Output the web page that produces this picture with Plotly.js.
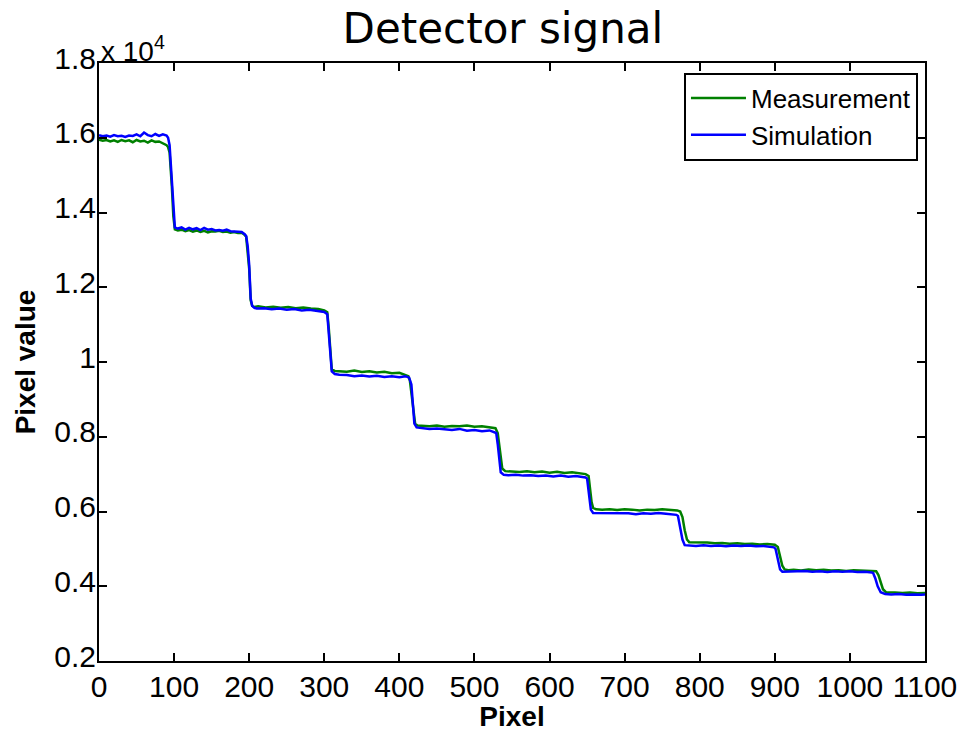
<!DOCTYPE html>
<html>
<head>
<meta charset="utf-8">
<script src="https://cdn.plot.ly/plotly-3.0.1.min.js"></script>
<style>html,body{margin:0;padding:0;background:#fff;}#chart{width:976px;height:732px;}</style>
</head>
<body>
<div id="chart"></div>
<script>
// Measurement (green): pixel index and pixel value
var measX = [0,5,10,15,20,25,30,35,40,45,50,55,60,65,70,75,80,85,90,92,94,97,99,101,105,110,115,120,125,130,135,140,145,150,155,160,165,170,175,180,185,190,193,196,198,200,202,204,207,212,222,232,242,252,262,272,282,292,300,304,306,308,310,314,320,330,340,350,360,370,380,390,400,408,412,414,417,419,421,424,430,440,450,460,470,480,490,500,510,520,528,531,533,535,537,541,550,560,570,580,590,600,610,620,630,640,648,652,654,656,658,662,670,680,690,700,710,720,730,740,750,760,770,774,777,780,783,786,790,800,810,820,830,840,850,860,870,880,890,900,904,907,910,913,918,925,935,945,955,965,975,985,995,1005,1015,1025,1035,1038,1041,1044,1048,1053,1060,1070,1080,1090,1100];
var measY = [15950,15920,15940,15900,15930,15890,15940,15910,15930,15880,15940,15900,15920,15870,15930,15890,15900,15860,15800,15750,15600,14700,13900,13550,13520,13540,13500,13530,13490,13520,13480,13510,13470,13500,13490,13510,13480,13490,13460,13480,13450,13460,13420,13350,13000,12500,11650,11500,11470,11490,11460,11480,11450,11470,11440,11460,11430,11420,11380,11330,10900,10200,9800,9760,9760,9740,9770,9730,9750,9720,9740,9700,9710,9660,9620,9500,9000,8600,8350,8300,8290,8280,8300,8270,8290,8280,8300,8270,8280,8260,8230,8100,7800,7450,7150,7080,7070,7060,7080,7050,7070,7040,7060,7030,7050,7020,7000,6950,6600,6250,6100,6060,6050,6060,6040,6060,6050,6030,6050,6040,6060,6040,6030,6000,5850,5500,5250,5180,5180,5160,5170,5150,5160,5140,5150,5130,5140,5120,5130,5110,5050,4800,4550,4450,4430,4440,4420,4450,4430,4440,4420,4430,4410,4430,4420,4410,4400,4300,4100,3920,3840,3830,3830,3820,3830,3810,3820];

// Simulation (blue)
var simX = [0,5,10,15,20,25,30,35,40,45,50,55,60,65,70,75,80,85,90,92,94,97,99,101,105,110,115,120,125,130,135,140,145,150,155,160,165,170,175,180,185,190,194,196,198,200,202,204,207,210,220,230,240,250,260,270,280,290,300,304,306,308,310,314,320,330,340,350,360,370,380,390,400,408,413,416,418,420,423,430,440,450,460,470,480,490,500,510,520,527,529,531,533,535,539,545,555,565,575,585,595,605,615,625,635,645,648,650,652,655,658,665,675,685,695,705,715,725,735,745,755,765,769,771,774,777,780,785,795,805,815,825,835,845,855,865,875,885,895,899,901,904,907,910,920,930,940,950,960,970,980,990,1000,1010,1020,1029,1031,1034,1037,1041,1047,1055,1065,1075,1085,1095,1100];
var simY = [16070,16040,16060,16030,16070,16040,16050,16020,16060,16050,16090,16040,16140,16070,16040,16100,16050,16090,16060,16000,15800,14800,14000,13600,13570,13600,13540,13590,13550,13580,13530,13590,13540,13560,13520,13530,13510,13540,13500,13490,13470,13480,13420,13370,13100,12600,11700,11500,11450,11430,11440,11410,11430,11400,11420,11380,11400,11360,11340,11280,10800,10100,9750,9680,9660,9650,9620,9640,9610,9630,9600,9620,9590,9620,9580,9400,8700,8350,8250,8230,8210,8220,8200,8180,8210,8160,8180,8150,8170,8120,8100,7800,7400,7050,6980,6970,6980,6960,6970,6950,6960,6940,6960,6930,6950,6930,6910,6880,6500,6050,5960,5960,5950,5960,5940,5950,5930,5950,5940,5960,5940,5930,5910,5880,5600,5250,5100,5090,5080,5100,5080,5090,5070,5090,5080,5090,5070,5080,5060,5040,5000,4700,4450,4390,4400,4390,4410,4390,4400,4380,4400,4390,4400,4380,4390,4370,4350,4200,4000,3840,3790,3780,3790,3770,3780,3770,3780];

var seriesNames = ["Measurement", "Simulation"];
var yTickVals = [2000,4000,6000,8000,10000,12000,14000,16000,18000];
var yTickText = ["0.2","0.4","0.6","0.8","1","1.2","1.4","1.6","1.8"];
var xTickVals = [0,100,200,300,400,500,600,700,800,900,1000,1100];

var traces = [
  {x: measX, y: measY, type: "scatter", mode: "lines", name: seriesNames[0],
   line: {color: "#008000", width: 2.5}},
  {x: simX, y: simY, type: "scatter", mode: "lines", name: seriesNames[1],
   line: {color: "#0000FF", width: 2.5}}
];

var axisFont = {family: "Liberation Sans, Arial, sans-serif", size: 30, color: "#000"};

var layout = {
  width: 976, height: 732,
  margin: {l: 99, r: 51, t: 63, b: 71, pad: 0},
  paper_bgcolor: "#fff", plot_bgcolor: "#fff",
  showlegend: true,
  title: {text: "Detector signal", font: {family: "DejaVu Sans, sans-serif", size: 42, color: "#000"},
          x: 0.489, xref: "paper", xanchor: "center", y: 0.962, yref: "container", yanchor: "middle"},
  xaxis: {
    range: [0, 1100], tickmode: "array", tickvals: xTickVals,
    showgrid: false, zeroline: false, showline: true, linecolor: "#000", linewidth: 2,
    mirror: "ticks", ticks: "inside", ticklen: 8, tickwidth: 2, tickcolor: "#000",
    tickfont: axisFont, ticklabelstandoff: -2,
    title: {text: "<b>Pixel</b>", font: {family: "Liberation Sans, Arial, sans-serif", size: 28, color: "#000"}, standoff: 2}
  },
  yaxis: {
    range: [2000, 18000], tickmode: "array", tickvals: yTickVals, ticktext: yTickText,
    showgrid: false, zeroline: false, showline: true, linecolor: "#000", linewidth: 2,
    mirror: "ticks", ticks: "inside", ticklen: 8, tickwidth: 2, tickcolor: "#000",
    tickfont: axisFont, ticklabelstandoff: -5, ticklabelshift: -5,
    title: {text: "<b>Pixel value</b>", font: {family: "Liberation Sans, Arial, sans-serif", size: 28, color: "#000"}, standoff: 10}
  },
  legend: {
    x: 0.9915, xanchor: "right", y: 0.984, yanchor: "top",
    bgcolor: "#fff", bordercolor: "#000", borderwidth: 2,
    font: {family: "Liberation Sans, Arial, sans-serif", size: 26, color: "#000"},
    tracegroupgap: 0, itemwidth: 55
  },
  annotations: [
    {text: "x 10<sup>4</sup>", xref: "paper", yref: "paper", x: 0, y: 1, xanchor: "left", yanchor: "bottom",
     showarrow: false, font: {family: "Liberation Sans, Arial, sans-serif", size: 28, color: "#000"}, xshift: 0, yshift: -6}
  ]
};

Plotly.newPlot("chart", traces, layout, {displayModeBar: false, staticPlot: true});
</script>
</body>
</html>
